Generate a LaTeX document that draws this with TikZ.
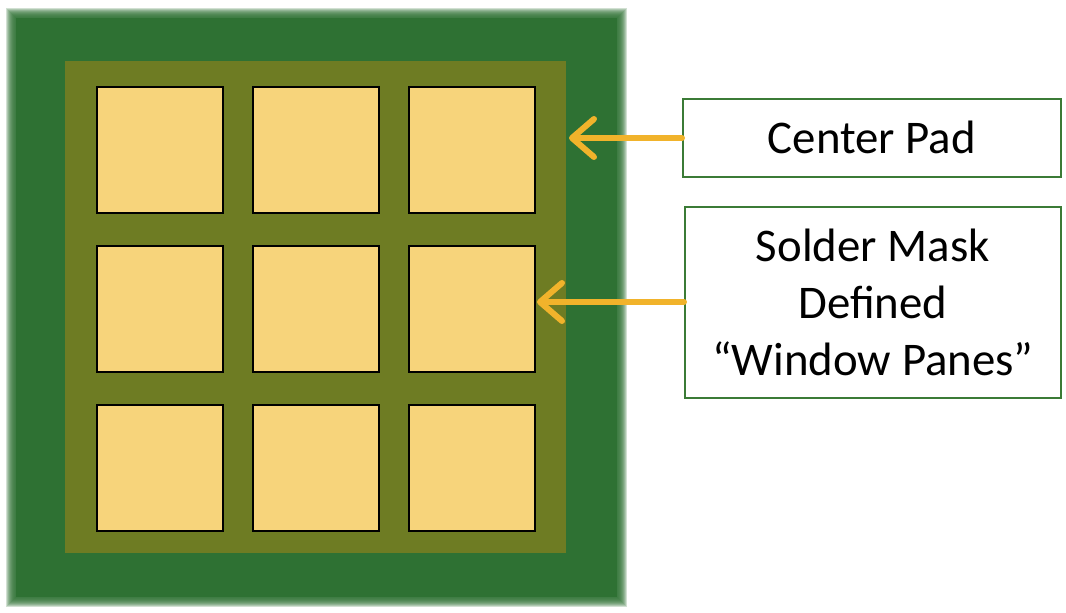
\documentclass[tikz,border=0pt]{standalone}
\usepackage{fontspec}
\setmainfont{Carlito}
\usetikzlibrary{arrows.meta}
\definecolor{board}{HTML}{2E7133}
\definecolor{mask}{HTML}{6E7C23}
\definecolor{pad}{HTML}{F7D47B}
\definecolor{arr}{HTML}{F1B32B}
\definecolor{boxline}{HTML}{3B7B36}
\tikzset{
  padbox/.style={draw=black, line width=1.8bp, fill=pad},
  label/.style={draw=boxline, line width=1.6bp, fill=white, align=center, inner sep=0pt,
     font=\fontsize{47}{57}\selectfont},
  pointer/.style={draw=arr, line width=6bp, line cap=round,
     -{Straight Barb[length=22bp, width=38bp, line cap=round, line join=round]}}
}
\begin{document}
\begin{tikzpicture}[x=1bp, y=-1bp]
\useasboundingbox (0,0) rectangle (1066,613);
% soft edge of board
\fill[board] (16,18) rectangle (617,597);
\foreach \d in {-4,-3,...,5} {
  \fill[board, opacity=0.22] (11-\d,13-\d) rectangle (622+\d,602+\d);
}
\fill[mask] (65,61) rectangle (566,553);
% pads
\foreach \c/\x in {1/96,2/252,3/408} {
  \foreach \r/\y in {1/86,2/245,3/404} {
    \node[padbox, minimum width=126bp, minimum height=126bp, inner sep=0pt, anchor=north west]
      (p\r\c) at (\x,\y) {};
  }
}
% labels
\node[label, minimum width=378bp, minimum height=78bp, anchor=north west] (cp) at (682,98) {Center Pad};
\node[label, minimum width=376bp, minimum height=191bp, anchor=north west] (sm) at (684,206)
  {Solder Mask\\Defined\\“Window Panes”};
\coordinate (t1) at (569,138);
\coordinate (t2) at (537,302);
\draw[pointer] (cp.west |- t1) -- (t1);
\draw[pointer] (sm.west |- t2) -- (t2);
\end{tikzpicture}
\end{document}
